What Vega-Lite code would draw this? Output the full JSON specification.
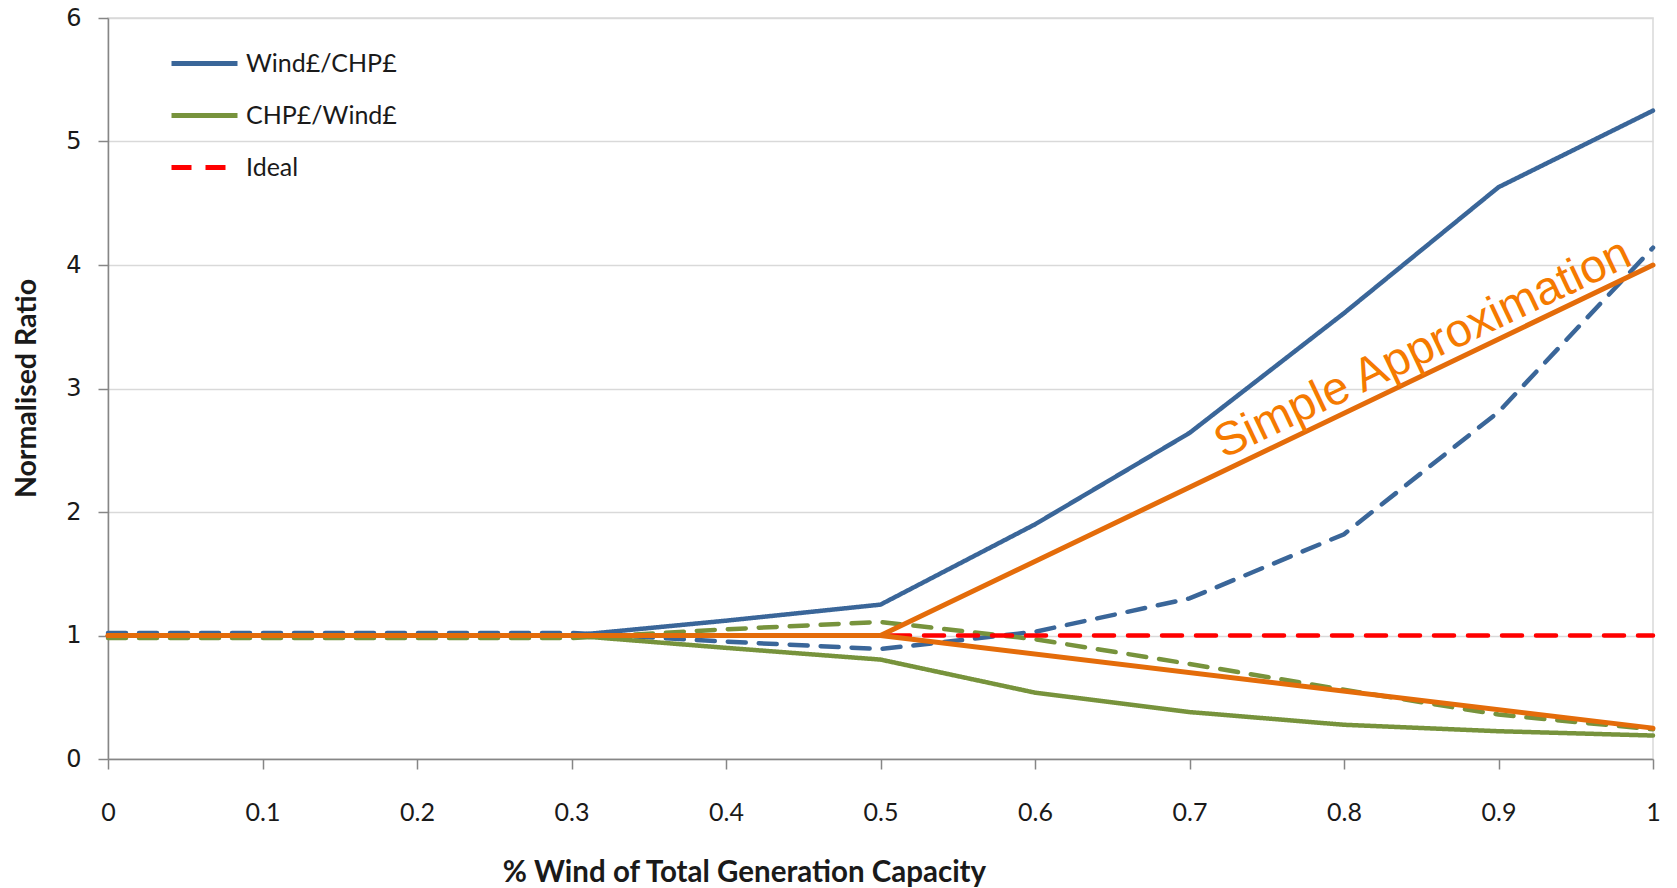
{
  "$schema": "https://vega.github.io/schema/vega-lite/v6.json",
  "width": 1545,
  "height": 741,
  "autosize": {"type": "none"},
  "padding": {"left": 108, "top": 18, "right": 24, "bottom": 129},
  "background": "white",
  "config": {
    "view": {"stroke": "#d9d9d9", "strokeWidth": 1.5},
    "font": "Lato"
  },
  "data": {
    "values": [
      {"x": 0, "y": 1.0, "s": "Wind£/CHP£"},
      {"x": 0.1, "y": 1.0, "s": "Wind£/CHP£"},
      {"x": 0.2, "y": 1.0, "s": "Wind£/CHP£"},
      {"x": 0.3, "y": 1.0, "s": "Wind£/CHP£"},
      {"x": 0.4, "y": 1.12, "s": "Wind£/CHP£"},
      {"x": 0.5, "y": 1.25, "s": "Wind£/CHP£"},
      {"x": 0.6, "y": 1.9, "s": "Wind£/CHP£"},
      {"x": 0.7, "y": 2.64, "s": "Wind£/CHP£"},
      {"x": 0.8, "y": 3.61, "s": "Wind£/CHP£"},
      {"x": 0.9, "y": 4.63, "s": "Wind£/CHP£"},
      {"x": 1.0, "y": 5.25, "s": "Wind£/CHP£"},
      {"x": 0, "y": 1.0, "s": "CHP£/Wind£"},
      {"x": 0.1, "y": 1.0, "s": "CHP£/Wind£"},
      {"x": 0.2, "y": 1.0, "s": "CHP£/Wind£"},
      {"x": 0.3, "y": 1.0, "s": "CHP£/Wind£"},
      {"x": 0.4, "y": 0.9, "s": "CHP£/Wind£"},
      {"x": 0.5, "y": 0.805, "s": "CHP£/Wind£"},
      {"x": 0.6, "y": 0.537, "s": "CHP£/Wind£"},
      {"x": 0.7, "y": 0.38, "s": "CHP£/Wind£"},
      {"x": 0.8, "y": 0.277, "s": "CHP£/Wind£"},
      {"x": 0.9, "y": 0.225, "s": "CHP£/Wind£"},
      {"x": 1.0, "y": 0.19, "s": "CHP£/Wind£"},
      {"x": 0, "y": 1.0, "s": "Ideal"},
      {"x": 1.0, "y": 1.0, "s": "Ideal"},
      {"x": 0, "y": 1.02, "s": "WC dashed"},
      {"x": 0.1, "y": 1.02, "s": "WC dashed"},
      {"x": 0.2, "y": 1.02, "s": "WC dashed"},
      {"x": 0.3, "y": 1.02, "s": "WC dashed"},
      {"x": 0.4, "y": 0.95, "s": "WC dashed"},
      {"x": 0.5, "y": 0.89, "s": "WC dashed"},
      {"x": 0.6, "y": 1.03, "s": "WC dashed"},
      {"x": 0.7, "y": 1.3, "s": "WC dashed"},
      {"x": 0.8, "y": 1.82, "s": "WC dashed"},
      {"x": 0.9, "y": 2.81, "s": "WC dashed"},
      {"x": 1.0, "y": 4.14, "s": "WC dashed"},
      {"x": 0, "y": 0.98, "s": "CW dashed"},
      {"x": 0.1, "y": 0.98, "s": "CW dashed"},
      {"x": 0.2, "y": 0.98, "s": "CW dashed"},
      {"x": 0.3, "y": 0.98, "s": "CW dashed"},
      {"x": 0.4, "y": 1.05, "s": "CW dashed"},
      {"x": 0.5, "y": 1.11, "s": "CW dashed"},
      {"x": 0.6, "y": 0.97, "s": "CW dashed"},
      {"x": 0.7, "y": 0.77, "s": "CW dashed"},
      {"x": 0.8, "y": 0.56, "s": "CW dashed"},
      {"x": 0.9, "y": 0.36, "s": "CW dashed"},
      {"x": 1.0, "y": 0.24, "s": "CW dashed"},
      {"x": 0, "y": 1.0, "s": "Approx upper"},
      {"x": 0.5, "y": 1.0, "s": "Approx upper"},
      {"x": 1.0, "y": 4.0, "s": "Approx upper"},
      {"x": 0.5, "y": 1.0, "s": "Approx lower"},
      {"x": 1.0, "y": 0.25, "s": "Approx lower"}
    ]
  },
  "encoding": {
    "x": {
      "field": "x", "type": "quantitative",
      "scale": {"domain": [0, 1], "nice": false, "zero": false},
      "axis": {
        "values": [0, 0.1, 0.2, 0.3, 0.4, 0.5, 0.6, 0.7, 0.8, 0.9, 1],
        "format": "~g",
        "grid": false,
        "domainColor": "#868686", "domainWidth": 1.5,
        "tickColor": "#868686", "tickWidth": 1.5, "tickSize": 10,
        "labelFont": "Lato", "labelFontSize": 25, "labelColor": "#1a1a1a",
        "labelPadding": 31, "labelFlush": false,
        "title": "% Wind of Total Generation Capacity",
        "titleFont": "Lato", "titleFontSize": 29.5, "titleFontWeight": "bold", "titleColor": "#1a1a1a",
        "titleX": 636, "titleY": 113, "titleAlign": "center", "titleBaseline": "middle", "titleAnchor": null
      }
    },
    "y": {
      "field": "y", "type": "quantitative",
      "scale": {"domain": [0, 6], "nice": false},
      "axis": {
        "values": [0, 1, 2, 3, 4, 5, 6],
        "grid": true, "gridColor": "#d9d9d9", "gridWidth": 1.5,
        "domainColor": "#868686", "domainWidth": 1.5,
        "tickColor": "#868686", "tickWidth": 1.5, "tickSize": 10,
        "labelFont": "DejaVu Sans", "labelFontSize": 24, "labelColor": "#1a1a1a",
        "labelPadding": 17,
        "title": "Normalised Ratio",
        "titleFont": "Lato", "titleFontSize": 28.5, "titleFontWeight": "bold", "titleColor": "#1a1a1a",
        "titleX": -82, "titleY": 370, "titleAngle": 270, "titleAlign": "center", "titleBaseline": "middle", "titleAnchor": null
      }
    }
  },
  "layer": [
    {
      "transform": [{"filter": "datum.s === 'WC dashed'"}],
      "mark": {"type": "line", "color": "#3A6699", "strokeWidth": 4.5, "strokeDash": [18, 13], "strokeCap": "round"}
    },
    {
      "transform": [{"filter": "datum.s === 'CW dashed'"}],
      "mark": {"type": "line", "color": "#77933C", "strokeWidth": 4.5, "strokeDash": [18, 13], "strokeCap": "round"}
    },
    {
      "transform": [{"filter": "datum.s === 'Wind£/CHP£' || datum.s === 'CHP£/Wind£' || datum.s === 'Ideal'"}],
      "mark": {"type": "line", "strokeWidth": 4.5, "strokeCap": "round"},
      "encoding": {
        "color": {
          "field": "s", "type": "nominal",
          "scale": {"domain": ["Wind£/CHP£", "CHP£/Wind£", "Ideal"], "range": ["#3A6699", "#77933C", "#FF0000"]},
          "legend": {
            "orient": "none", "legendX": 61, "legendY": 10, "title": null,
            "padding": 0, "symbolType": "stroke", "symbolSize": 4356, "symbolStrokeWidth": 5,
            "rowPadding": 3, "labelOffset": 6,
            "labelFont": "Lato", "labelFontSize": 25, "labelColor": "#1a1a1a", "labelLimit": 400
          }
        },
        "strokeDash": {
          "field": "s", "type": "nominal",
          "scale": {"domain": ["Wind£/CHP£", "CHP£/Wind£", "Ideal"], "range": [[1, 0], [1, 0], [20, 14]]},
          "legend": null
        }
      }
    },
    {
      "transform": [{"filter": "datum.s === 'Approx upper' || datum.s === 'Approx lower'"}],
      "mark": {"type": "line", "color": "#E46C0A", "strokeWidth": 5, "strokeCap": "round"},
      "encoding": {"detail": {"field": "s", "type": "nominal"}}
    },
    {
      "data": {"values": [{"x": 0.851, "y": 3.32, "label": "Simple Approximation"}]},
      "mark": {"type": "text", "color": "#F57A00", "font": "Liberation Sans", "fontSize": 47, "angle": 334.6, "align": "center", "baseline": "middle"},
      "encoding": {"text": {"field": "label"}}
    }
  ]
}
